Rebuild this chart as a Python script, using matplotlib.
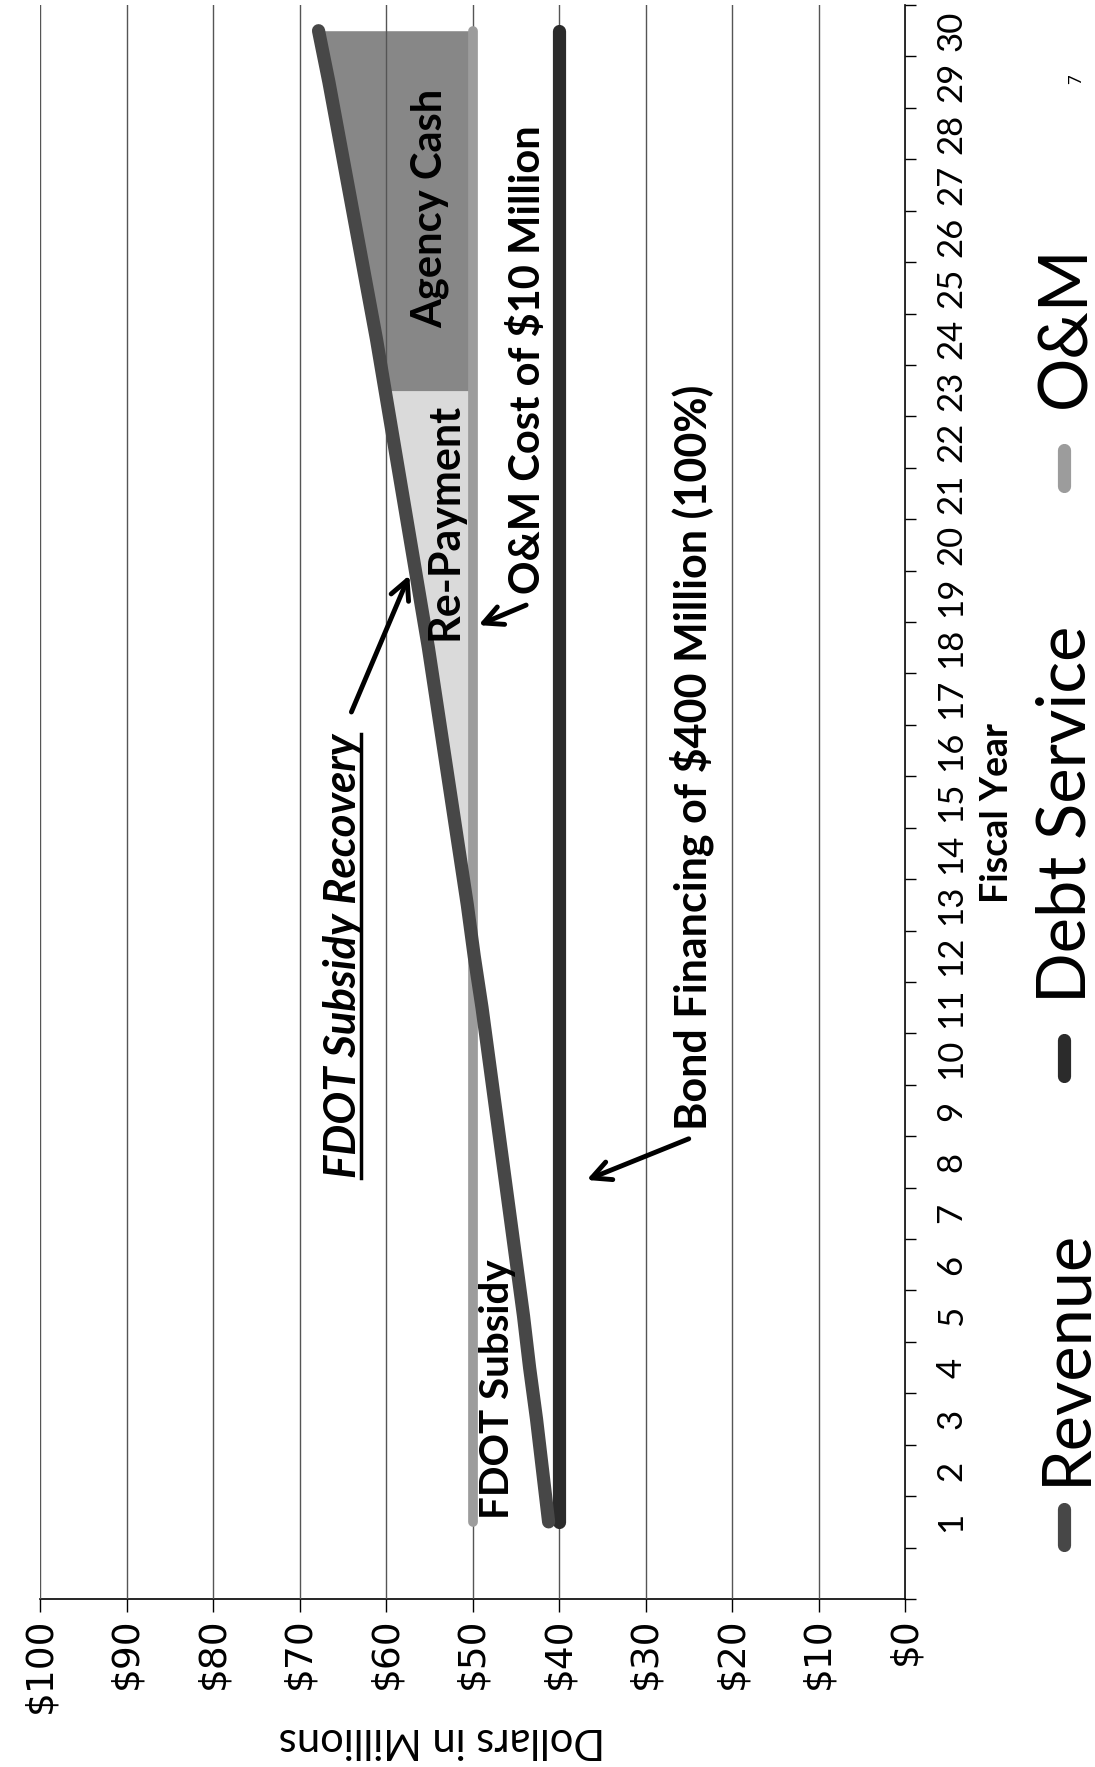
import numpy as np
import matplotlib
matplotlib.use("Agg")
import matplotlib.pyplot as plt
from matplotlib.lines import Line2D
from matplotlib.transforms import IdentityTransform

years = np.arange(1, 31)
revenue = np.array([41.2, 41.9, 42.6, 43.4, 44.1, 44.9, 45.7, 46.5, 47.3, 48.1,
                    48.9, 49.8, 50.6, 51.5, 52.4, 53.3, 54.2, 55.1, 56.1, 57.1,
                    58.1, 59.1, 60.1, 61.1, 62.2, 63.3, 64.4, 65.5, 66.6, 67.8])
debt_service = np.array([40.0] * 30)
om = np.array([50.0] * 30)
value_ticks = list(range(0, 101, 10))
value_labels = ["$%d" % v for v in value_ticks]
repay_end = 23  # year where agency cash begins

W, H = 1095, 1767
fig = plt.figure(figsize=(W / 100, H / 100), dpi=100)
ax = fig.add_axes([40 / W, 1 - 1599 / H, (905 - 40) / W, (1599 - 5) / H])

c_rev = "#474747"
c_debt = "#2b2b2b"
c_om = "#9c9c9c"

# shaded areas between O&M and revenue
ax.fill_betweenx(years, om, revenue, where=(revenue >= om) & (years <= repay_end),
                 interpolate=True, color="#dadada", lw=0, zorder=1)
ax.fill_betweenx(years, om, revenue, where=(years >= repay_end),
                 color="#878787", lw=0, zorder=1)

ax.plot(om, years, color=c_om, lw=7, solid_capstyle="round", zorder=3)
ax.plot(debt_service, years, color=c_debt, lw=9.5, solid_capstyle="round", zorder=4)
ax.plot(revenue, years, color=c_rev, lw=9.5, solid_capstyle="round", zorder=5)

ax.set_xlim(100, 0)
ax.set_ylim(-0.5, 30.5)

# value axis (bottom)
ax.set_xticks(value_ticks)
ax.set_xticklabels(value_labels, rotation=90, ha="center", va="top",
                   fontsize=27, family="DejaVu Sans")
ax.tick_params(axis="x", direction="out", length=9, width=1, pad=4)
ax.grid(True, axis="x", color="#555555", lw=1)
ax.set_axisbelow(False)

# year axis (right)
ax.yaxis.tick_right()
ax.set_yticks(years)
ax.set_yticklabels([str(y) for y in years], rotation=90, ha="left", va="center",
                   fontsize=25, family="Lato")
ax.set_yticks(np.arange(-0.5, 31, 1), minor=True)
ax.tick_params(axis="y", which="major", length=0, pad=22)
ax.tick_params(axis="y", which="minor", direction="out", length=8, width=1)

for s in ("top", "left"):
    ax.spines[s].set_visible(False)
for s in ("right", "bottom"):
    ax.spines[s].set_linewidth(1.2)

# axis titles
fig.text(442 / W, 1 - 1740 / H, "Dollars in Millions", rotation=180,
         ha="center", va="center", fontsize=30, family="Lato")
fig.text(997 / W, 1 - 813 / H, "Fiscal Year", rotation=90, ha="center",
         va="center", fontsize=27, family="Lato", weight="bold")

# annotations
bold = dict(family="Lato", weight="bold", rotation=90, ha="center",
            va="center", zorder=6)
ax.text(54.9, 26.55, "Agency Cash", fontsize=30, **bold)
ax.text(53.2, 20.45, "Re-Payment", fontsize=31, **bold)
ax.text(43.6, 23.6, "O&M Cost of $10 Million", fontsize=30, **bold)
rec = ax.text(65.0, 12.0, "FDOT Subsidy Recovery", fontsize=31.5,
              style="italic", **bold)
ax.text(24.6, 15.86, "Bond Financing of $400 Million (100%)", fontsize=31, **bold)
ax.text(47.1, 3.58, "FDOT Subsidy", fontsize=29, **bold)

arrow = dict(arrowstyle="->", color="black", lw=3.5, mutation_scale=34,
             shrinkA=0, shrinkB=0)
ax.annotate("", xy=(49.3, 18.44), xytext=(43.8, 18.83), arrowprops=arrow, zorder=6)
ax.annotate("", xy=(57.3, 19.41), xytext=(64.0, 16.75), arrowprops=arrow, zorder=6)
ax.annotate("", xy=(36.8, 7.65), xytext=(25.0, 8.45), arrowprops=arrow, zorder=6)

# legend drawn by hand, rotated like the rest of the page
legend = [("Revenue", c_rev, 1527, 1357),
          ("Debt Service", c_debt, 1058, 814),
          ("O&M", c_om, 468, 327)]
for name, col, my, ty in legend:
    fig.add_artist(Line2D([1064 / W, 1064 / W], [1 - (my + 18) / H, 1 - (my - 18) / H],
                          transform=fig.transFigure, color=col, lw=9.5,
                          solid_capstyle="round"))
    fig.text(1066 / W, 1 - ty / H, name, rotation=90,
             ha="center", va="center", fontsize=48, family="Lato")

fig.text(1076 / W, 1 - 79 / H, "7", rotation=90, ha="center", va="center",
         fontsize=12, family="Lato")

# underline for the italic label
fig.canvas.draw()
bb = rec.get_window_extent(fig.canvas.get_renderer())
fig.add_artist(Line2D([bb.x1 - 2, bb.x1 - 2], [bb.y0, bb.y1],
                      transform=IdentityTransform(), color="black", lw=2.5))

fig.savefig("out.png", dpi=100)
